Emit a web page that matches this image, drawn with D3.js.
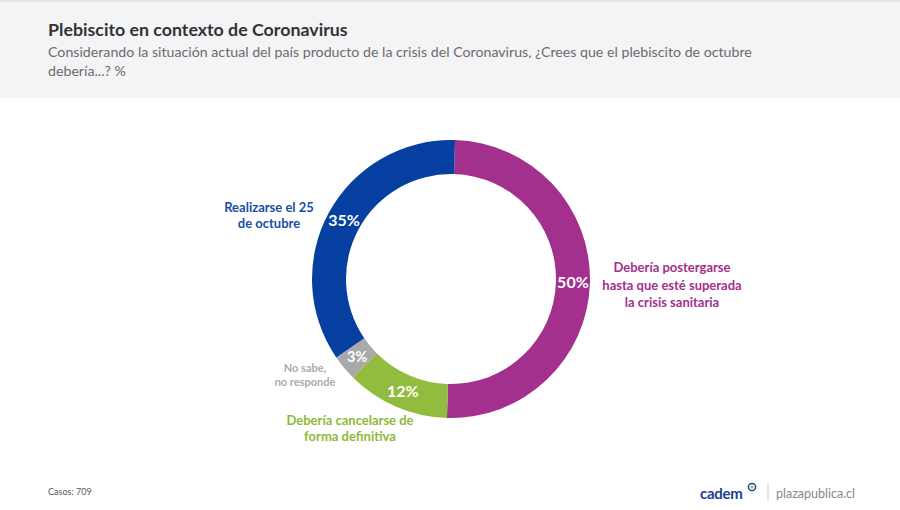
<!DOCTYPE html>
<html><head><meta charset="utf-8">
<script src="https://cdn.jsdelivr.net/npm/d3@7/dist/d3.min.js"></script>
<style>body{margin:0;background:#fff;} svg{display:block;font-family:Lato,"Open Sans",sans-serif;}</style>
</head><body><svg id="c" width="900" height="510"></svg>
<script>
const categories = ["Debería postergarse hasta que esté superada la crisis sanitaria", "Debería cancelarse de forma definitiva", "No sabe, no responde", "Realizarse el 25 de octubre"];
const values = [50, 12, 3, 35];
const colors = ["#A3308C", "#92BC3D", "#A9A9A9", "#0540A0"];
const labelColors = ["#A3308C", "#8DBA3A", "#ABABAB", "#1A4DA6"];
const labelLines = [["Debería postergarse","hasta que esté superada","la crisis sanitaria"],["Debería cancelarse de","forma definitiva"],["No sabe,","no responde"],["Realizarse el 25","de octubre"]];
const labelPos = [[672,272,17.5,13],[350,425,15.5,13],[305,372,14,11],[269,212,16,13]];

const svg = d3.select("#c");
// header
svg.append("rect").attr("x",0).attr("y",0).attr("width",900).attr("height",98).attr("fill","#F4F4F6");
svg.append("rect").attr("x",0).attr("y",0).attr("width",900).attr("height",1.5).attr("fill","#E2E2E4");
svg.append("text").attr("x",48).attr("y",36).attr("font-size",17.8).attr("font-weight",700).attr("fill","#333").text("Plebiscito en contexto de Coronavirus");
svg.append("text").attr("x",48).attr("y",57).attr("font-size",14.2).attr("fill","#6b6b6b").text("Considerando la situación actual del país producto de la crisis del Coronavirus, ¿Crees que el plebiscito de octubre");
svg.append("text").attr("x",48).attr("y",76).attr("font-size",14.2).attr("fill","#6b6b6b").text("debería...? %");

const cx = 451, cy = 279, rOut = 139, rIn = 105;
const off = 0.029;
const pie = d3.pie().sort(null).startAngle(off).endAngle(2*Math.PI+off);
const arcs = pie(values);
const arc = d3.arc().innerRadius(rIn).outerRadius(rOut);
const g = svg.append("g").attr("transform",`translate(${cx},${cy})`);
g.selectAll("path").data(arcs).join("path").attr("d",arc).attr("fill",(d,i)=>colors[i]);
const mid = d3.arc().innerRadius((rIn+rOut)/2).outerRadius((rIn+rOut)/2);
g.selectAll("text.pct").data(arcs).join("text").attr("class","pct")
  .attr("x",d=>mid.centroid(d)[0]).attr("y",d=>mid.centroid(d)[1]).attr("dy","0.36em")
  .attr("text-anchor","middle").attr("font-size",d=>d.data<5?14.5:16).attr("font-weight",700).attr("fill","#fff")
  .text(d=>d.data+"%");

labelLines.forEach((lines,i)=>{
  const [x,y,lh,fs] = labelPos[i];
  const t = svg.append("text").attr("text-anchor","middle").attr("font-size",fs).attr("font-weight",700).attr("fill",labelColors[i]);
  lines.forEach((l,j)=>t.append("tspan").attr("x",x).attr("y",y+j*lh).text(l));
});

// footer
svg.append("text").attr("x",48).attr("y",495).attr("font-size",9).attr("fill","#555").text("Casos: 709");
svg.append("text").attr("x",700).attr("y",499).attr("font-size",15).attr("font-weight",700).attr("fill","#1B3F8F").attr("letter-spacing",-0.3).text("cadem");
svg.append("circle").attr("cx",752).attr("cy",487).attr("r",3.6).attr("fill","none").attr("stroke","#1B3F8F").attr("stroke-width",1.5);
svg.append("circle").attr("cx",752).attr("cy",487).attr("r",1.6).attr("fill","#9CC23F");
svg.append("line").attr("x1",768).attr("x2",768).attr("y1",483).attr("y2",501).attr("stroke","#ccc");
svg.append("text").attr("x",776).attr("y",498).attr("font-size",12.5).attr("fill","#888").text("plazapublica.cl");
</script></body></html>
